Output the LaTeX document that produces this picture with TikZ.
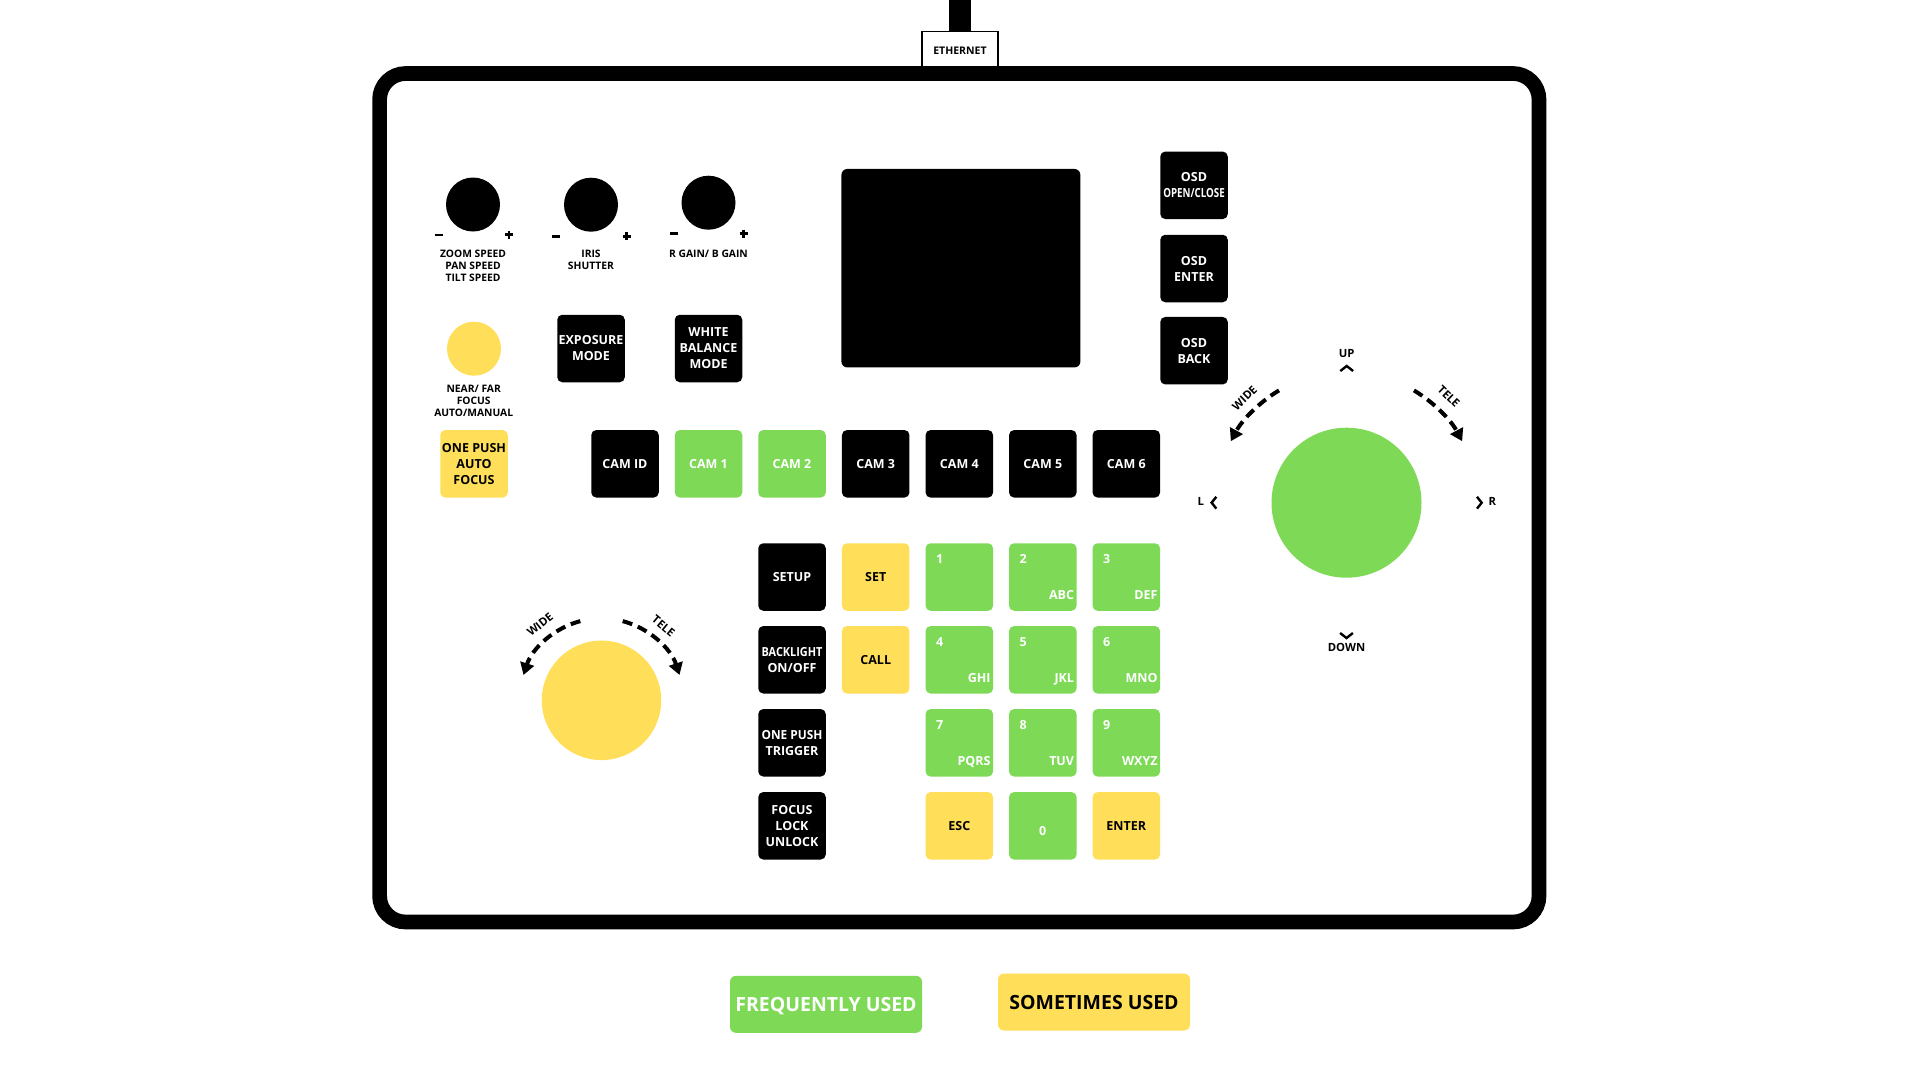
\documentclass[tikz,border=0pt]{standalone}
\usepackage{fontspec}
\setmainfont{Open Sans}
\usepackage{graphicx}
\usetikzlibrary{arrows.meta}
\definecolor{kgreen}{HTML}{7ED957}
\definecolor{kyellow}{HTML}{FFDE59}
\newcommand\kbtnfont{\bfseries\fontsize{12.5}{16}\selectfont}
\newcommand\klblfont{\bfseries\fontsize{10.3}{12}\selectfont}
\newcommand\klegfont{\bfseries\fontsize{19.5}{22}\selectfont}
\tikzset{
 btn/.style={rectangle, rounded corners=5pt, minimum width=67.5pt, minimum height=67.5pt, inner sep=0pt, align=center, font=\kbtnfont},
 blackbtn/.style={btn, fill=black, text=white},
 greenbtn/.style={btn, fill=kgreen, text=white},
 yellowbtn/.style={btn, fill=kyellow, text=black},
 knob/.style={circle, fill=black, minimum size=54pt, inner sep=0pt},
 knoblbl/.style={align=center, font=\klblfont, inner sep=0pt},
 pm/.style={line width=2.6pt},
 keynum/.style={font=\kbtnfont, text=white, inner sep=0pt},
 dirlbl/.style={font=\bfseries\fontsize{11.3}{13}\selectfont, inner sep=0pt},
 chev/.style={line width=2.4pt, line cap=butt, line join=miter},
 zoomarrow/.style={line width=4pt, dash pattern=on 10pt off 6pt, -{Triangle[length=12pt,width=14pt]}},
 legendbox/.style={rectangle, rounded corners=6pt, minimum width=192pt, minimum height=57pt, inner sep=0pt, text depth=0pt, font=\klegfont},
}
\begin{document}
\begin{tikzpicture}[x=1pt,y=-1pt]
\useasboundingbox (0,0) rectangle (1920,1080);
\fill[white] (0,0) rectangle (1920,1080);

% ethernet
\coordinate (cabletop) at (960,0);
\node[draw=black, line width=1.3pt, fill=white, minimum width=76pt, minimum height=45pt, inner sep=0pt, anchor=north] (eth) at (960,30.6) {};
\draw[line width=22pt] (cabletop) -- (eth.north);
\node[font=\bfseries\fontsize{10.5}{12}\selectfont, inner sep=0pt] (ethlbl) at (960,50.5) {ETHERNET};

% frame
\draw[line width=14.7pt, rounded corners=26pt] (379.6,73.5) rectangle (1539,922);

% knobs
\node[knob] (kz) at (473,204.5) {};
\node[knob] (ki) at (591,204.7) {};
\node[knob] (kr) at (708.5,202.7) {};
\draw[pm] ([shift={(-38.5,30.5)}]kz.center) -- ++(8,0);
\draw[pm] ([shift={(32,30)}]kz.center) -- ++(8,0);
\draw[pm] ([shift={(36,26)}]kz.center) -- ++(0,8);
\draw[pm] ([shift={(-39,31.5)}]ki.center) -- ++(8,0);
\draw[pm] ([shift={(31.5,31.5)}]ki.center) -- ++(8,0);
\draw[pm] ([shift={(35.5,27.5)}]ki.center) -- ++(0,8);
\draw[pm] ([shift={(-38.5,31)}]kr.center) -- ++(8,0);
\draw[pm] ([shift={(31,31)}]kr.center) -- ++(8,0);
\draw[pm] ([shift={(35,27)}]kr.center) -- ++(0,8);
\node[knoblbl] (kzl) at (473,266.2) {ZOOM SPEED\\PAN SPEED\\TILT SPEED};
\node[knoblbl] (kil) at (591,260.3) {IRIS\\SHUTTER};
\node[knoblbl] (krl) at (708.5,254) {R GAIN/ B GAIN};

% focus knob
\node[circle, fill=kyellow, minimum size=54pt, inner sep=0pt] (kf) at (474,348.7) {};
\node[knoblbl] (kfl) at (473.7,400.5) {NEAR/ FAR\\FOCUS\\AUTO/MANUAL};

\node[blackbtn] (expo) at (591,348.5) {EXPOSURE\\MODE};
\node[blackbtn] (wb) at (708.5,348.5) {WHITE\\BALANCE\\MODE};
\node[yellowbtn] (opaf) at (474,463.8) {ONE PUSH\\AUTO\\FOCUS};

% screen
\node[rectangle, fill=black, rounded corners=6pt, minimum width=239pt, minimum height=198.5pt, inner sep=0pt] (scr) at (960.9,268.2) {};

% OSD
\node[blackbtn] (osdo) at (1194,185.3) {OSD\\\scalebox{0.78}[1]{OPEN/CLOSE}};
\node[blackbtn] (osde) at (1194,268.5) {OSD\\ENTER};
\node[blackbtn] (osdb) at (1194,350.7) {OSD\\BACK};

% CAM row
\node[blackbtn] (camid) at (625,463.8) {CAM ID};
\node[greenbtn] (cam1) at (708.5,463.8) {CAM 1};
\node[greenbtn] (cam2) at (792,463.8) {CAM 2};
\node[blackbtn] (cam3) at (875.7,463.8) {CAM 3};
\node[blackbtn] (cam4) at (959.3,463.8) {CAM 4};
\node[blackbtn] (cam5) at (1042.8,463.8) {CAM 5};
\node[blackbtn] (cam6) at (1126.3,463.8) {CAM 6};

% left column
\node[blackbtn] (setup) at (792,577) {SETUP};
\node[blackbtn] (blight) at (792,659.8) {\scalebox{0.87}[1]{BACKLIGHT}\\ON/OFF};
\node[blackbtn] (optrig) at (792,742.8) {\scalebox{0.95}[1]{ONE PUSH}\\TRIGGER};
\node[blackbtn] (flock) at (792,825.8) {FOCUS\\LOCK\\UNLOCK};
\node[yellowbtn] (set) at (875.7,577) {SET};
\node[yellowbtn] (call) at (875.7,659.8) {CALL};

% keypad
\node[greenbtn] (k1) at (959.3,577) {};
\node[greenbtn] (k2) at (1042.8,577) {};
\node[greenbtn] (k3) at (1126.3,577) {};
\node[greenbtn] (k4) at (959.3,659.8) {};
\node[greenbtn] (k5) at (1042.8,659.8) {};
\node[greenbtn] (k6) at (1126.3,659.8) {};
\node[greenbtn] (k7) at (959.3,742.8) {};
\node[greenbtn] (k8) at (1042.8,742.8) {};
\node[greenbtn] (k9) at (1126.3,742.8) {};
\node[yellowbtn] (esc) at (959.3,825.8) {ESC};
\node[greenbtn] (k0) at (1042.8,825.8) {};
\node[yellowbtn] (enter) at (1126.3,825.8) {ENTER};
\foreach \k/\n/\l in {k1/1/, k2/2/ABC, k3/3/DEF, k4/4/GHI, k5/5/JKL, k6/6/MNO, k7/7/PQRS, k8/8/TUV, k9/9/WXYZ}{
  \node[keynum, anchor=base west] (\k n) at ([xshift=10.5pt,yshift=-20.4pt]\k.north west) {\n};
  \node[keynum, anchor=base east] (\k l) at ([xshift=-2.5pt,yshift=11.4pt]\k.south east) {\l};
}
\node[keynum, anchor=base] (k0n) at ([yshift=-9.6pt]k0.center) {0};

% zoom knob (yellow)
\node[circle, fill=kyellow, minimum size=119.5pt, inner sep=0pt] (zk) at (601.5,700.3) {};
\draw[zoomarrow] ([shift={(-105:82)}]zk.center) arc[start angle=-105, end angle=-162, radius=82];
\draw[zoomarrow] ([shift={(-75:82)}]zk.center) arc[start angle=-75, end angle=-18, radius=82];
\node[dirlbl, rotate=39] (zwide) at (540,624.5) {WIDE};
\node[dirlbl, rotate=-40] (ztele) at (663.5,626) {TELE};

% joystick (green)
\node[circle, fill=kgreen, minimum size=150pt, inner sep=0pt] (joy) at (1346.5,502.7) {};
\draw[zoomarrow] ([shift={(-121:131)}]joy.center) arc[start angle=-121, end angle=-152, radius=131];
\draw[zoomarrow] ([shift={(-59:131)}]joy.center) arc[start angle=-59, end angle=-28, radius=131];
\node[dirlbl, rotate=44] (jwide) at (1244.5,398) {WIDE};
\node[dirlbl, rotate=-44] (jtele) at (1448.8,396.5) {TELE};
\node[dirlbl] (jup) at (1346.7,354) {UP};
\node[dirlbl] (jdown) at (1346.5,647.7) {DOWN};
\node[dirlbl] (jl) at (1200.7,501) {L};
\node[dirlbl] (jr) at (1492.3,501) {R};
\draw[chev] (1340.3,371) -- (1346.7,366) -- (1353.1,371);
\draw[chev] (1340.1,633) -- (1346.5,638) -- (1352.9,633);
\draw[chev] (1216.3,496.8) -- (1211.6,502.7) -- (1216.3,508.6);
\draw[chev] (1477,496.8) -- (1481.7,502.7) -- (1477,508.6);

% legend
\node[legendbox, fill=kgreen, text=white] (freq) at (826,1004.3) {FREQUENTLY USED};
\node[legendbox, fill=kyellow, text=black] (some) at (1094,1002) {SOMETIMES USED};
\end{tikzpicture}
\end{document}
